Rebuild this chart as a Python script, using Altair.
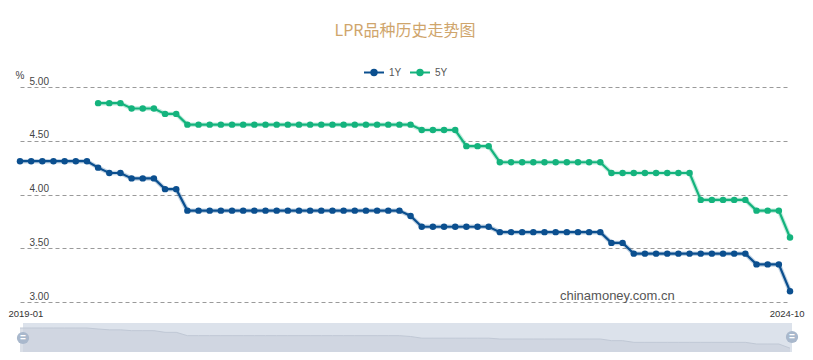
import altair as alt
import pandas as pd

# ---- data ----
months = [f"{y}-{m:02d}" for y in range(2019, 2025) for m in range(1, 13)][:70]

one_y = [
    4.31, 4.31, 4.31, 4.31, 4.31, 4.31, 4.31, 4.25, 4.20, 4.20, 4.15, 4.15,   # 2019
    4.15, 4.05, 4.05, 3.85, 3.85, 3.85, 3.85, 3.85, 3.85, 3.85, 3.85, 3.85,   # 2020
    3.85, 3.85, 3.85, 3.85, 3.85, 3.85, 3.85, 3.85, 3.85, 3.85, 3.85, 3.80,   # 2021
    3.70, 3.70, 3.70, 3.70, 3.70, 3.70, 3.70, 3.65, 3.65, 3.65, 3.65, 3.65,   # 2022
    3.65, 3.65, 3.65, 3.65, 3.65, 3.55, 3.55, 3.45, 3.45, 3.45, 3.45, 3.45,   # 2023
    3.45, 3.45, 3.45, 3.45, 3.45, 3.45, 3.35, 3.35, 3.35, 3.10,               # 2024
]
five_y = [
    None, None, None, None, None, None, None, 4.85, 4.85, 4.85, 4.80, 4.80,   # 2019
    4.80, 4.75, 4.75, 4.65, 4.65, 4.65, 4.65, 4.65, 4.65, 4.65, 4.65, 4.65,   # 2020
    4.65, 4.65, 4.65, 4.65, 4.65, 4.65, 4.65, 4.65, 4.65, 4.65, 4.65, 4.65,   # 2021
    4.60, 4.60, 4.60, 4.60, 4.45, 4.45, 4.45, 4.30, 4.30, 4.30, 4.30, 4.30,   # 2022
    4.30, 4.30, 4.30, 4.30, 4.30, 4.20, 4.20, 4.20, 4.20, 4.20, 4.20, 4.20,   # 2023
    4.20, 3.95, 3.95, 3.95, 3.95, 3.95, 3.85, 3.85, 3.85, 3.60,               # 2024
]
series_names = ["1Y", "5Y"]
series_colors = ["#0b4f8f", "#14b37d"]
y_ticks = [3.0, 3.5, 4.0, 4.5, 5.0]
x_labels = ["2019-01", "2024-10"]
title_text = "LPR品种历史走势图"
watermark_text = "chinamoney.com.cn"
unit_text = "%"

rows = []
for i, mth in enumerate(months):
    rows.append({"month": mth, "series": "1Y", "value": one_y[i]})
    if five_y[i] is not None:
        rows.append({"month": mth, "series": "5Y", "value": five_y[i]})
df = pd.DataFrame(rows)
df1 = df[df["series"] == "1Y"]

W, H = 770, 215
LATIN = "Liberation Sans"

x_axis = alt.Axis(
    values=x_labels, labelAngle=0, domain=False, ticks=False, tickSize=0, grid=False,
    labelPadding=6, labelFontSize=9.5, labelColor="#333", labelFont=LATIN,
    labelOverlap=False, labelFlush=False, labelBound=False, title=None,
    labelAlign={"condition": {"test": "datum.value == '2019-01'", "value": "left"}, "value": "right"},
    labelOffset={"condition": {"test": "datum.value == '2019-01'", "value": -12}, "value": 14},
)
x_enc = alt.X("month:O", sort=months, scale=alt.Scale(type="point", padding=0), axis=x_axis)

y_enc = alt.Y(
    "value:Q",
    scale=alt.Scale(domain=[3, 5], zero=False, nice=False),
    axis=alt.Axis(
        values=y_ticks, format=".2f", grid=True, gridDash=[4, 3], gridColor="#9a9a9a",
        gridWidth=1, domain=False, ticks=False, tickSize=0, labelAlign="left",
        labelBaseline="bottom", labelPadding=-9, labelOffset=-1,
        labelFontSize=10, labelColor="#444", labelFont=LATIN, title=None,
    ),
)
color_enc = alt.Color("series:N", scale=alt.Scale(domain=series_names, range=series_colors), legend=None)

base = alt.Chart(df).encode(x=x_enc, y=y_enc, color=color_enc, detail="series:N")
halo = base.mark_line(strokeWidth=4.5, opacity=0.25)
line = base.mark_line(strokeWidth=2.2)
pts = base.mark_circle(size=42, opacity=1)
main = alt.layer(halo, line, pts)

# ---- slider (data zoom) ----
one = pd.DataFrame({"k": [0]})
slider_bg = alt.Chart(one).mark_rect(color="#dce2eb").encode(
    x=alt.value(3), x2=alt.value(772), y=alt.value(236), y2=alt.value(265)
)
slider_area = alt.Chart(df1).mark_area(
    color="#cbd2dd", line={"color": "#c0c8d5", "strokeWidth": 1}
).encode(
    x=x_enc,
    y=alt.Y("value:Q", scale=alt.Scale(domain=[2.87, 4.61], range=[265, 236], zero=False, nice=False), axis=None),
    y2=alt.value(265),
)
handle_l = alt.Chart(one).mark_circle(size=150, color="#a9b8cc", opacity=1).encode(
    x=alt.value(3), y=alt.value(251)
)
handle_r = alt.Chart(one).mark_circle(size=150, color="#a9b8cc", opacity=1).encode(
    x=alt.value(772), y=alt.value(250)
)
hl_text = alt.Chart(pd.DataFrame({"t": ["="]})).mark_text(
    color="white", fontSize=10, fontWeight="bold", font=LATIN
).encode(x=alt.value(3), y=alt.value(251), text="t:N")
hr_text = alt.Chart(pd.DataFrame({"t": ["="]})).mark_text(
    color="white", fontSize=10, fontWeight="bold", font=LATIN
).encode(x=alt.value(772), y=alt.value(250), text="t:N")

# ---- title, legend, labels ----
title = alt.Chart(pd.DataFrame({"t": [title_text]})).mark_text(
    font="Noto Sans CJK SC", fontSize=16, color="#cfa56c", align="center", baseline="middle"
).encode(x=alt.value(385), y=alt.value(-56), text="t:N")

leg_layers = []
leg_x = [344, 390]
for name, col, lx in zip(series_names, series_colors, leg_x):
    leg_layers.append(
        alt.Chart(one).mark_rule(color=col, strokeWidth=2).encode(
            x=alt.value(lx), x2=alt.value(lx + 20), y=alt.value(-14.5)
        )
    )
    leg_layers.append(
        alt.Chart(one).mark_circle(color=col, size=55, opacity=1).encode(
            x=alt.value(lx + 10), y=alt.value(-14.5)
        )
    )
    leg_layers.append(
        alt.Chart(pd.DataFrame({"t": [name]})).mark_text(
            font=LATIN, fontSize=10, color="#555", align="left", baseline="middle"
        ).encode(x=alt.value(lx + 25), y=alt.value(-14.5), text="t:N")
    )

pct = alt.Chart(pd.DataFrame({"t": [unit_text]})).mark_text(
    font=LATIN, fontSize=10, color="#444", align="center", baseline="middle"
).encode(x=alt.value(0), y=alt.value(-11.5), text="t:N")

wm = alt.Chart(pd.DataFrame({"t": [watermark_text]})).mark_text(
    font=LATIN, fontSize=13, color="#555", align="left", baseline="middle"
).encode(x=alt.value(540), y=alt.value(209), text="t:N")

chart = alt.layer(
    slider_bg, slider_area, main, handle_l, handle_r, hl_text, hr_text, title, pct, wm, *leg_layers
).resolve_scale(y="independent").properties(
    width=W, height=H,
    autosize=alt.AutoSizeParams(type="none"),
    padding={"left": 12, "top": 79, "right": 15, "bottom": 50},
    background="white",
).configure_view(stroke=None)

chart.save("out.html", embed_options={"renderer": "svg", "actions": False})
